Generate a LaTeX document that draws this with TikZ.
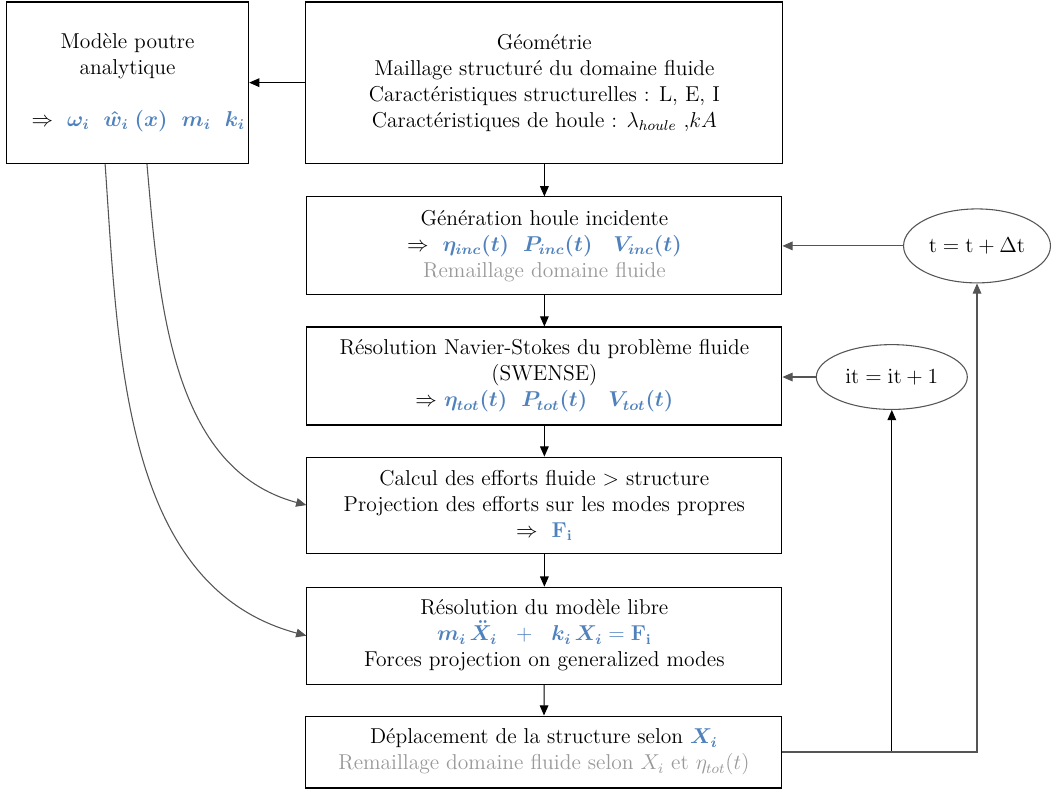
\documentclass[12pt,tikz,border=0pt]{standalone}
\usepackage{amsmath,amssymb,bm}
\usetikzlibrary{arrows.meta, positioning, calc, shapes.geometric}
\definecolor{eqblue}{HTML}{4F81BD}
\definecolor{remgray}{HTML}{999999}
\definecolor{linegray}{HTML}{555555}

\begin{document}
\begin{tikzpicture}[
  >={Triangle[length=2mm, width=1.7mm]},
  box/.style 2 args={
    draw=black, line width=0.6pt, minimum width=#1, minimum height=#2,
    align=center, inner sep=2pt
  },
  loopnode/.style 2 args={
    ellipse, draw=linegray, line width=0.6pt, minimum width=#1,
    minimum height=#2, inner sep=0pt
  },
  arr/.style={->, line width=0.6pt, black},
  garr/.style={->, line width=0.6pt, linegray},
]

\useasboundingbox (0,0) rectangle (20.62,-15.48);

% ---- Top boxes ----
% Box: analytical beam model
\node[box={4.72cm}{3.16cm}] (model) at (2.50,-1.62)
  {Mod\`ele poutre\\analytique\\[14pt]
   \hspace*{12pt}$\Rightarrow$\ \ \color{eqblue}$\bm{\omega_i}$\ \ $\bm{\hat{w}_i\;(x)}$\ \ $\bm{m_i}$\ \ $\bm{k_i}$};

% Box: geometry
\node[box={9.35cm}{3.16cm}] (geo) at (10.67,-1.62)
  {G\'eom\'etrie\\
   Maillage structur\'e du domaine fluide\\
   Caract\'eristiques structurelles : L, E, I\\
   Caract\'eristiques de houle : $\lambda_{houle}$ ,$kA$};

% ---- Main column ----
% Box: incident wave
\node[box={9.31cm}{1.92cm}] (gen) at (10.67,-4.82)
  {G\'en\'eration houle incidente\\
   $\Rightarrow$\ \ \color{eqblue}$\bm{\eta_{inc}(t)}$\ \ $\bm{P_{inc}(t)}$\ \ \ $\bm{V_{inc}(t)}$\\
   \color{remgray}Remaillage domaine fluide};

% Box: Navier-Stokes
\node[box={9.31cm}{1.92cm}] (ns) at (10.67,-7.37)
  {R\'esolution Navier-Stokes du probl\`eme fluide\\
   (SWENSE)\\
   $\Rightarrow$\ \color{eqblue}$\bm{\eta_{tot}(t)}$\ \ $\bm{P_{tot}(t)}$\ \ \ $\bm{V_{tot}(t)}$};

% Box: fluid loads
\node[box={9.31cm}{1.88cm}] (calc) at (10.67,-9.90)
  {Calcul des efforts fluide $>$ structure\\
   Projection des efforts sur les modes propres\\
   $\Rightarrow$\ \ \color{eqblue}$\mathbf{F_i}$};

% Box: free model
\node[box={9.31cm}{1.90cm}] (resol) at (10.67,-12.46)
  {R\'esolution du mod\`ele libre\\
   \color{eqblue}$\bm{m_i\,\ddot{X}_i}\ \ +\ \ \bm{k_i\,X_i} = \mathbf{F_i}$\\
   Forces projection on generalized modes};

% Box: displacement
\node[box={9.33cm}{1.41cm}] (depl) at (10.66,-14.74)
  {D\'eplacement de la structure selon {\color{eqblue}$\bm{X_i}$}\\
   \color{remgray}Remaillage domaine fluide selon $X_i$ et $\eta_{tot}(t)$};

% ---- Loop counters ----
\node[loopnode={2.88cm}{1.45cm}] (tstep) at (19.15,-4.82)
  {$\mathrm{t} = \mathrm{t} + \Delta\mathrm{t}$};
\node[loopnode={2.96cm}{1.27cm}] (iter) at (17.48,-7.39)
  {$\mathrm{it} = \mathrm{it} + 1$};

% ---- Arrows ----
\draw[arr] (geo.west) -- (model.east |- geo.west);
\draw[arr] (geo) -- (gen);
\draw[arr] (gen) -- (ns);
\draw[arr] (ns) -- (calc);
\draw[arr] (calc) -- (resol);
\draw[arr] (resol) -- (depl);

\draw[garr] (tstep) -- (gen.east |- tstep);
\draw[garr] (iter) -- (ns.east |- iter);

\draw[arr] (depl.east) -| (iter.south);
\draw[garr] (depl.east) -| (tstep.south);

% ---- Modal data to the structure boxes ----
\draw[garr] ([xshift=0.38cm]model.south) to[out=-85, in=165, looseness=0.95] (calc.west);
\draw[garr] ([xshift=-0.44cm]model.south) to[out=-86, in=165, looseness=0.95] (resol.west);

\end{tikzpicture}
\end{document}
